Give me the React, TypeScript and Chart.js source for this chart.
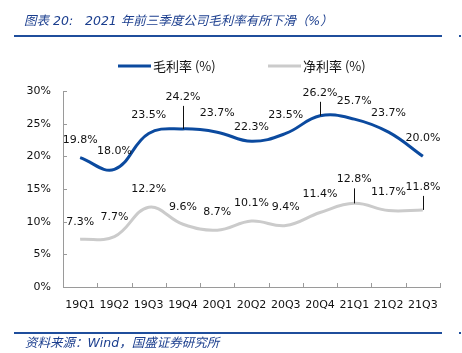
import React, { useEffect, useRef } from "react";
import { Chart, registerables } from "chart.js";

Chart.register(...registerables);

const categories = ["19Q1", "19Q2", "19Q3", "19Q4", "20Q1", "20Q2", "20Q3", "20Q4", "21Q1", "21Q2", "21Q3"];
const grossMargin = [19.8, 18.0, 23.5, 24.2, 23.7, 22.3, 23.5, 26.2, 25.7, 23.7, 20.0];
const netMargin = [7.3, 7.7, 12.2, 9.6, 8.7, 10.1, 9.4, 11.4, 12.8, 11.7, 11.8];
const yTicks = [0, 5, 10, 15, 20, 25, 30];
const seriesNames = ["毛利率 (%)", "净利率 (%)"];
const titleText = "图表 20:   2021 年前三季度公司毛利率有所下滑（%）";
const sourceText = "资料来源：Wind，国盛证券研究所";

// label vertical offsets (px) relative to the point; leader line drawn when far
const grossLabelDy = [-17, -18, -18, -32, -19, -14, -18, -23, -18, -19, -18];
const netLabelDy = [-17, -20, -18, -17, -18, -18, -18, -18, -24, -18, -23];

const BLUE = "#0B4A9F";
const GRAY = "#CBCBCB";
const LABEL_FONT = "11px 'DejaVu Sans', Verdana, sans-serif";

const overlayPlugin = {
  id: "overlay",
  afterDatasetsDraw(chart: any) {
    const ctx = chart.ctx;
    const xs = chart.scales.x;
    const ys = chart.scales.y;
    const area = chart.chartArea;
    ctx.save();
    // inward ticks
    ctx.strokeStyle = "#9A9A9A";
    ctx.lineWidth = 1;
    ctx.beginPath();
    yTicks.forEach((v) => {
      const y = Math.round(ys.getPixelForValue(v)) + 0.5;
      ctx.moveTo(area.left, y);
      ctx.lineTo(area.left + 4, y);
    });
    for (let i = 0; i <= categories.length; i++) {
      const x = Math.round(xs.getPixelForValue(i - 0.5)) + 0.5;
      ctx.moveTo(x, area.bottom);
      ctx.lineTo(x, area.bottom - 4);
    }
    ctx.stroke();

    // data labels
    const dys = [grossLabelDy, netLabelDy];
    ctx.font = LABEL_FONT;
    ctx.fillStyle = "#111";
    ctx.textAlign = "center";
    ctx.textBaseline = "middle";
    chart.data.datasets.forEach((ds: any, di: number) => {
      const meta = chart.getDatasetMeta(di);
      meta.data.forEach((pt: any, i: number) => {
        const dy = dys[di][i];
        const ly = pt.y + dy;
        ctx.fillText(ds.data[i].toFixed(1) + "%", pt.x, ly);
        if (dy < -20) {
          ctx.strokeStyle = "#111";
          ctx.beginPath();
          ctx.moveTo(Math.round(pt.x) + 0.5, ly + 9);
          ctx.lineTo(Math.round(pt.x) + 0.5, pt.y);
          ctx.stroke();
        }
      });
    });

    // legend
    const legendItems = [
      { x: 118, color: BLUE, text: seriesNames[0] },
      { x: 268, color: GRAY, text: seriesNames[1] },
    ];
    ctx.font = "13px 'Noto Sans CJK SC', sans-serif";
    ctx.textAlign = "left";
    ctx.fillStyle = "#111";
    legendItems.forEach((it) => {
      ctx.strokeStyle = it.color;
      ctx.lineWidth = 3;
      ctx.beginPath();
      ctx.moveTo(it.x, 66);
      ctx.lineTo(it.x + 33, 66);
      ctx.stroke();
      ctx.fillText(it.text, it.x + 35, 66);
    });
    ctx.restore();
  },
};

export default function App() {
  const ref = useRef<HTMLCanvasElement>(null);
  useEffect(() => {
    if (!ref.current) return;
    const chart = new Chart(ref.current, {
      type: "line",
      data: {
        labels: categories,
        datasets: [
          {
            label: seriesNames[0],
            data: grossMargin,
            borderColor: BLUE,
            borderWidth: 3,
            pointRadius: 0,
            tension: 0.4,
            fill: false,
          },
          {
            label: seriesNames[1],
            data: netMargin,
            borderColor: GRAY,
            borderWidth: 3,
            pointRadius: 0,
            tension: 0.4,
            fill: false,
          },
        ],
      },
      options: {
        animation: false,
        responsive: false,
        maintainAspectRatio: false,
        layout: { padding: { left: 0, right: 22, top: 91, bottom: 36 } },
        plugins: {
          legend: { display: false },
          tooltip: { enabled: false },
          title: { display: false },
        },
        scales: {
          x: {
            offset: true,
            grid: { display: false, drawTicks: false },
            border: { display: true, color: "#9A9A9A", width: 1 },
            ticks: {
              color: "#111",
              font: { family: "'DejaVu Sans', Verdana, sans-serif", size: 11 },
              padding: 12,
              maxRotation: 0,
              autoSkip: false,
            },
            afterFit: (s: any) => {
              s.height = 30;
            },
          },
          y: {
            min: 0,
            max: 30,
            grid: { display: false, drawTicks: false },
            border: { display: true, color: "#9A9A9A", width: 1 },
            ticks: {
              stepSize: 5,
              color: "#111",
              font: { family: "'DejaVu Sans', Verdana, sans-serif", size: 11 },
              padding: 12,
              callback: (v: any) => v + "%",
            },
            afterFit: (s: any) => {
              s.width = 63;
            },
          },
        },
      },
      plugins: [overlayPlugin],
    });
    return () => chart.destroy();
  }, []);

  return (
    <div style={{ position: "absolute", left: 0, top: 0, width: 462, height: 353, background: "#fff", overflow: "hidden" }}>
      <canvas ref={ref} width={462} height={353} style={{ position: "absolute", left: 0, top: 0, width: 462, height: 353 }} />
      <div
        style={{
          position: "absolute",
          left: 24,
          top: 12,
          fontFamily: "'DejaVu Sans', 'Noto Sans CJK SC', sans-serif",
          fontStyle: "italic",
          fontSize: 12.5,
          lineHeight: "18px",
          color: "#1B3E8E",
          whiteSpace: "pre",
        }}
      >
        {titleText}
      </div>
      <div style={{ position: "absolute", left: 14, top: 35, width: 428, height: 2, background: "#1F4E9C" }} />
      <div style={{ position: "absolute", left: 459, top: 35, width: 2, height: 2, background: "#1F4E9C" }} />
      <div style={{ position: "absolute", left: 14, top: 332, width: 428, height: 2, background: "#1F4E9C" }} />
      <div style={{ position: "absolute", left: 459, top: 332, width: 2, height: 2, background: "#1F4E9C" }} />
      <div
        style={{
          position: "absolute",
          left: 25,
          top: 335,
          fontFamily: "'DejaVu Sans', 'Noto Sans CJK SC', sans-serif",
          fontStyle: "italic",
          fontSize: 12.5,
          lineHeight: "15px",
          color: "#1B3E8E",
          whiteSpace: "pre",
        }}
      >
        {sourceText}
      </div>
    </div>
  );
}
